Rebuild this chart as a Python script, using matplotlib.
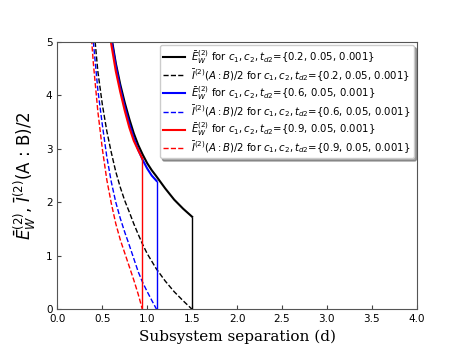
import numpy as np
import matplotlib
matplotlib.use('Agg')
import matplotlib.pyplot as plt

# values
c1_values = [0.2, 0.6, 0.9]
colors = ['black', 'blue', 'red']

# E_W^(2) (solid)
d_ew_02 = [0.60, 0.65, 0.70, 0.75, 0.80, 0.85, 0.90, 0.95, 1.00, 1.05, 1.10, 1.20, 1.30, 1.40, 1.50]
ew_02 = [5.10, 4.60, 4.20, 3.86, 3.56, 3.29, 3.07, 2.89, 2.73, 2.60, 2.49, 2.26, 2.05, 1.88, 1.73]
d_ew_06 = [0.60, 0.65, 0.70, 0.75, 0.80, 0.85, 0.90, 0.95, 1.00, 1.05, 1.104]
ew_06 = [5.05, 4.55, 4.13, 3.78, 3.47, 3.20, 2.98, 2.79, 2.63, 2.50, 2.40]
d_ew_09 = [0.59, 0.65, 0.70, 0.75, 0.80, 0.85, 0.90, 0.946]
ew_09 = [5.05, 4.45, 4.06, 3.71, 3.40, 3.15, 2.97, 2.82]

# I^(2)(A:B)/2 (dashed)
d_mi_02 = [0.42, 0.45, 0.50, 0.55, 0.60, 0.65, 0.70, 0.75, 0.80, 0.85, 0.90, 0.95, 1.00, 1.10, 1.20, 1.30, 1.40, 1.50]
mi_02 = [5.00, 4.45, 3.83, 3.33, 2.93, 2.57, 2.28, 2.03, 1.82, 1.60, 1.40, 1.21, 1.04, 0.76, 0.53, 0.33, 0.16, 0.00]
d_mi_06 = [0.40, 0.45, 0.50, 0.55, 0.60, 0.65, 0.70, 0.75, 0.80, 0.85, 0.90, 0.95, 1.00, 1.05, 1.104]
mi_06 = [5.00, 4.10, 3.45, 2.85, 2.38, 2.00, 1.70, 1.44, 1.20, 0.95, 0.70, 0.50, 0.33, 0.17, 0.00]
d_mi_09 = [0.38, 0.40, 0.45, 0.50, 0.55, 0.60, 0.65, 0.70, 0.75, 0.80, 0.85, 0.90, 0.946]
mi_09 = [5.05, 4.60, 3.70, 3.00, 2.42, 1.98, 1.60, 1.30, 1.05, 0.80, 0.55, 0.28, 0.00]

ew_series = [(d_ew_02, ew_02), (d_ew_06, ew_06), (d_ew_09, ew_09)]
mi_series = [(d_mi_02, mi_02), (d_mi_06, mi_06), (d_mi_09, mi_09)]

# =============================================================================

fig = plt.figure(figsize=(4.63, 3.48), dpi=100)
ax = fig.add_axes([0.124, 0.111, 0.776, 0.769])

for c1, col, (d_ew, ew), (d_mi, mi) in zip(c1_values, colors, ew_series, mi_series):
    ax.plot(d_ew, ew, color=col, lw=1.5,
            label=r'$\bar{E}_W^{(2)}$ for $c_1, c_2, t_{d2}$={%.1f, 0.05, 0.001}' % c1)
    ax.vlines(d_ew[-1], 0, ew[-1], color=col, lw=1.0)
    ax.plot(d_mi, mi, color=col, lw=1.0, ls='--',
            label=r'$\bar{I}^{(2)}(A:B)/2$ for $c_1, c_2, t_{d2}$={%.1f, 0.05, 0.001}' % c1)

ax.set_xlim(0, 4)
ax.set_ylim(0, 5)
ax.set_xticks(np.arange(0, 4.01, 0.5))
ax.set_yticks(np.arange(0, 6, 1))
ax.tick_params(direction='in', labelsize=7.5, length=3, color='#444444')
for sp in ax.spines.values():
    sp.set_color('#555555')

ax.set_xlabel('Subsystem separation (d)', family='DejaVu Serif', fontsize=11)
ax.set_ylabel(r'$\bar{E}_W^{(2)}$, $\bar{I}^{(2)}$(A : B)/2', fontsize=12, labelpad=6)

ax.legend(loc='upper right', fontsize=7.3, shadow=True, framealpha=1,
          handlelength=2.2, borderpad=0.3, labelspacing=0.12,
          handletextpad=0.6, borderaxespad=0.3)

plt.savefig('out.png', dpi=100)
